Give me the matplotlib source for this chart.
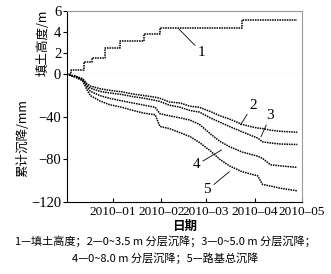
import matplotlib
matplotlib.use("Agg")
import matplotlib.pyplot as plt
import matplotlib.dates as mdates
import pandas as pd

# fill height (curve 1), step values
fill_dates = ["2009-12-03", "2009-12-06", "2009-12-14", "2009-12-19", "2009-12-27",
              "2010-01-06", "2010-01-21", "2010-01-31", "2010-03-24", "2010-04-28"]
fill_height = [0, 0.4, 1.15, 1.5, 2.45, 3.15, 3.8, 4.4, 5.15, 5.15]

# settlement curves 2-5 (mm)
settle_dates = ["2009-12-03", "2009-12-08", "2009-12-13", "2009-12-16", "2009-12-18",
                "2009-12-24", "2009-12-30", "2010-01-07", "2010-01-14", "2010-01-21",
                "2010-01-28", "2010-01-31", "2010-02-06", "2010-02-13", "2010-02-19",
                "2010-02-25", "2010-03-04", "2010-03-10", "2010-03-16", "2010-03-24",
                "2010-03-29", "2010-04-03", "2010-04-06", "2010-04-11", "2010-04-17",
                "2010-04-28"]
settle_2 = [0, -1.5, -4, -9, -11, -13.5, -15, -16.5, -18.5, -20, -21.5, -22.5, -26,
            -27, -30, -31, -35, -39, -42, -47, -49, -50.5, -51, -52.5, -53.5, -54.5]
settle_3 = [0, -1.8, -4.5, -10.5, -13, -16, -17.5, -19, -21, -22.5, -24.5, -25.5, -29,
            -31, -34, -35.5, -41, -45, -49, -54, -57, -60, -63.5, -64.5, -65.5, -66]
settle_4 = [0, -2, -5, -12, -16, -20, -22.5, -25, -27, -29, -31, -37, -39,
            -41, -43, -47, -56, -63, -68, -73, -75, -77, -79, -85, -86, -87.5]
settle_5 = [0, -2.5, -6, -15, -20, -25, -28.5, -31, -34, -36.5, -38, -49, -51,
            -55, -58.5, -64, -72, -80, -86, -91.5, -93.5, -95.5, -103.5, -105, -107, -109.5]

caption = ("1\u2014填土高度；2\u20140~3.5 m 分层沉降；3\u20140~5.0 m 分层沉降；\n"
           "4\u20140~8.0 m 分层沉降；5\u2014路基总沉降")

plt.rcParams["font.family"] = ["Liberation Serif", "Noto Sans CJK SC", "DejaVu Sans"]
cjk = ["Noto Sans CJK SC", "DejaVu Sans"]
gray = "#9a9a9a"

fd = pd.to_datetime(fill_dates)
sd = pd.to_datetime(settle_dates)

fig = plt.figure(figsize=(3.31, 2.74), dpi=100)
ax1 = fig.add_axes([0.2015, 0.7288, 0.711, 0.231])
ax2 = fig.add_axes([0.2015, 0.2628, 0.711, 0.466], sharex=ax1)

line_kw = dict(color="black", lw=1.1, linestyle=(0, (1, 0.6)))
ax1.plot(fd, fill_height, drawstyle="steps-post", **line_kw)
for vals in [settle_2, settle_3, settle_4, settle_5]:
    ax2.plot(sd, vals, **line_kw)

ax1.set_ylim(0, 6)
ax1.set_yticks([0, 2, 4, 6])
ax2.set_ylim(-120, 0)
ax2.set_yticks([-120, -80, -40])
ax2.set_xlim(pd.Timestamp("2009-12-03"), pd.Timestamp("2010-05-01"))
ax2.xaxis.set_major_locator(mdates.MonthLocator(bymonth=[1, 2, 3, 4, 5]))
ax2.xaxis.set_major_formatter(mdates.DateFormatter("%Y\u2013%m"))

for ax in (ax1, ax2):
    for s in ("top", "right"):
        ax.spines[s].set_color(gray)
    ax.spines["left"].set_color("black")
    ax.tick_params(axis="y", direction="out", length=3, width=0.8, pad=1,
                   labelsize=10.5)
    ax.tick_params(axis="x", direction="in", length=3, width=0.8, pad=3,
                   labelsize=9.5)
ax1.spines["bottom"].set_color(gray)
ax1.tick_params(axis="x", bottom=False, labelbottom=False)
ax2.spines["top"].set_visible(False)
ax2.spines["bottom"].set_color("black")

ax1.set_ylabel("填土高度/m", family=cjk, fontsize=9, labelpad=3)
ax2.set_ylabel("累计沉降/mm", family=cjk, fontsize=9, labelpad=1)
ax2.set_xlabel("日期", family=cjk, fontsize=9, fontweight="bold", labelpad=1)

# curve labels with leader lines
lead = dict(arrowstyle="-", color="black", lw=0.6, shrinkA=0, shrinkB=0)
ax1.annotate("1", xy=(pd.Timestamp("2010-02-12"), 4.3),
             xytext=(pd.Timestamp("2010-02-24"), 2.1), ha="left", va="center",
             fontsize=11, arrowprops=lead)
ax2.annotate("2", xy=(pd.Timestamp("2010-03-23"), -47.6),
             xytext=(pd.Timestamp("2010-03-31"), -28.9), ha="center", va="center",
             fontsize=11, arrowprops=lead)
ax2.annotate("3", xy=(pd.Timestamp("2010-04-05"), -58.6),
             xytext=(pd.Timestamp("2010-04-11"), -38.9), ha="center", va="center",
             fontsize=11, arrowprops=lead)
ax2.annotate("4", xy=(pd.Timestamp("2010-03-11"), -71.1),
             xytext=(pd.Timestamp("2010-02-23"), -85.2), ha="center", va="center",
             fontsize=11, arrowprops=lead)
ax2.annotate("5", xy=(pd.Timestamp("2010-03-16"), -91.5),
             xytext=(pd.Timestamp("2010-03-02"), -108.7), ha="center", va="center",
             fontsize=11, arrowprops=lead)

fig.text(0.5, 0.035, caption, ha="center", va="bottom", family=cjk, fontsize=8,
         linespacing=1.6)

fig.savefig("out.png", dpi=100)
